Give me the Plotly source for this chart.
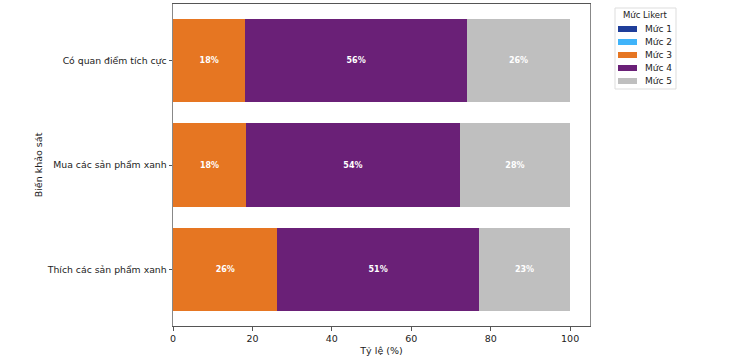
import plotly.graph_objects as go

categories = ["Thích các sản phẩm xanh", "Mua các sản phẩm xanh", "Có quan điểm tích cực"]
levels = ["Mức 1", "Mức 2", "Mức 3", "Mức 4", "Mức 5"]
muc1 = [0, 0, 0]
muc2 = [0, 0, 0]
muc3 = [26.3, 18.4, 18.2]
muc4 = [50.7, 53.8, 55.8]
muc5 = [23.0, 27.8, 26.0]
series = [muc1, muc2, muc3, muc4, muc5]
colors = ["#1F3E9A", "#40B4FA", "#E67622", "#6A2077", "#BFBFBF"]

W, H = 736, 360
ML, MR, MT, MB = 173, 146, 4, 34
PW, PH = W - ML - MR, H - MT - MB

def px_x(p):
    return (p - ML) / PW

def px_y(p):
    return (H - MB - p) / PH

fig = go.Figure()
for name, vals, col in zip(levels, series, colors):
    texts = [f"{round(v)}%" if v > 0 else "" for v in vals]
    fig.add_trace(go.Bar(
        y=categories, x=vals, name=name, orientation="h",
        marker=dict(color=col, line=dict(width=0)),
        text=texts, textposition="inside", insidetextanchor="middle",
        textfont=dict(color="white", size=8, family="DejaVu Sans", weight="bold"),
        width=0.8, cliponaxis=False, showlegend=False,
    ))

# custom compact legend (matplotlib-like)
shapes = [dict(type="rect", xref="paper", yref="paper",
               x0=px_x(615), x1=px_x(676), y0=px_y(89), y1=px_y(8),
               line=dict(color="#DDDDDD", width=1), fillcolor="white", layer="above")]
annotations = [dict(text="Mức Likert", xref="paper", yref="paper",
                    x=px_x(645.5), y=px_y(15.5), showarrow=False,
                    xanchor="center", yanchor="middle",
                    font=dict(size=8.5, color="#222"))]
for i, (name, col) in enumerate(zip(levels, colors)):
    cy = 29 + i * 13
    shapes.append(dict(type="rect", xref="paper", yref="paper",
                       x0=px_x(618), x1=px_x(637), y0=px_y(cy + 3), y1=px_y(cy - 3),
                       line=dict(width=0), fillcolor=col, layer="above"))
    annotations.append(dict(text=name, xref="paper", yref="paper",
                            x=px_x(643), y=px_y(cy), showarrow=False,
                            xanchor="left", yanchor="middle",
                            font=dict(size=9, color="#222")))

fig.update_layout(
    barmode="stack",
    width=W, height=H,
    margin=dict(l=ML, r=MR, t=MT, b=MB, autoexpand=False),
    paper_bgcolor="white", plot_bgcolor="white",
    font=dict(family="DejaVu Sans", size=10, color="#222"),
    showlegend=False,
    shapes=shapes, annotations=annotations,
    xaxis=dict(
        range=[0, 105], tickvals=[0, 20, 40, 60, 80, 100],
        showgrid=False, zeroline=False, automargin=False,
        showline=True, linecolor="#555", linewidth=1, mirror=True,
        ticks="outside", ticklen=3.5, tickcolor="#555",
        title=dict(text="Tỷ lệ (%)", standoff=4, font=dict(size=9.5)),
        tickfont=dict(size=9.5),
    ),
    yaxis=dict(
        range=[-0.54, 2.54], showgrid=False, zeroline=False, automargin=False,
        showline=True, linecolor="#888", linewidth=1, mirror=True,
        ticks="outside", ticklen=3.5, tickcolor="#555",
        title=dict(text="Biến khảo sát", standoff=2, font=dict(size=9.5)),
        tickfont=dict(size=9.3),
    ),
)

fig.write_html("out.html", post_script="document.body.style.margin='0';",
               config={"displayModeBar": False})
